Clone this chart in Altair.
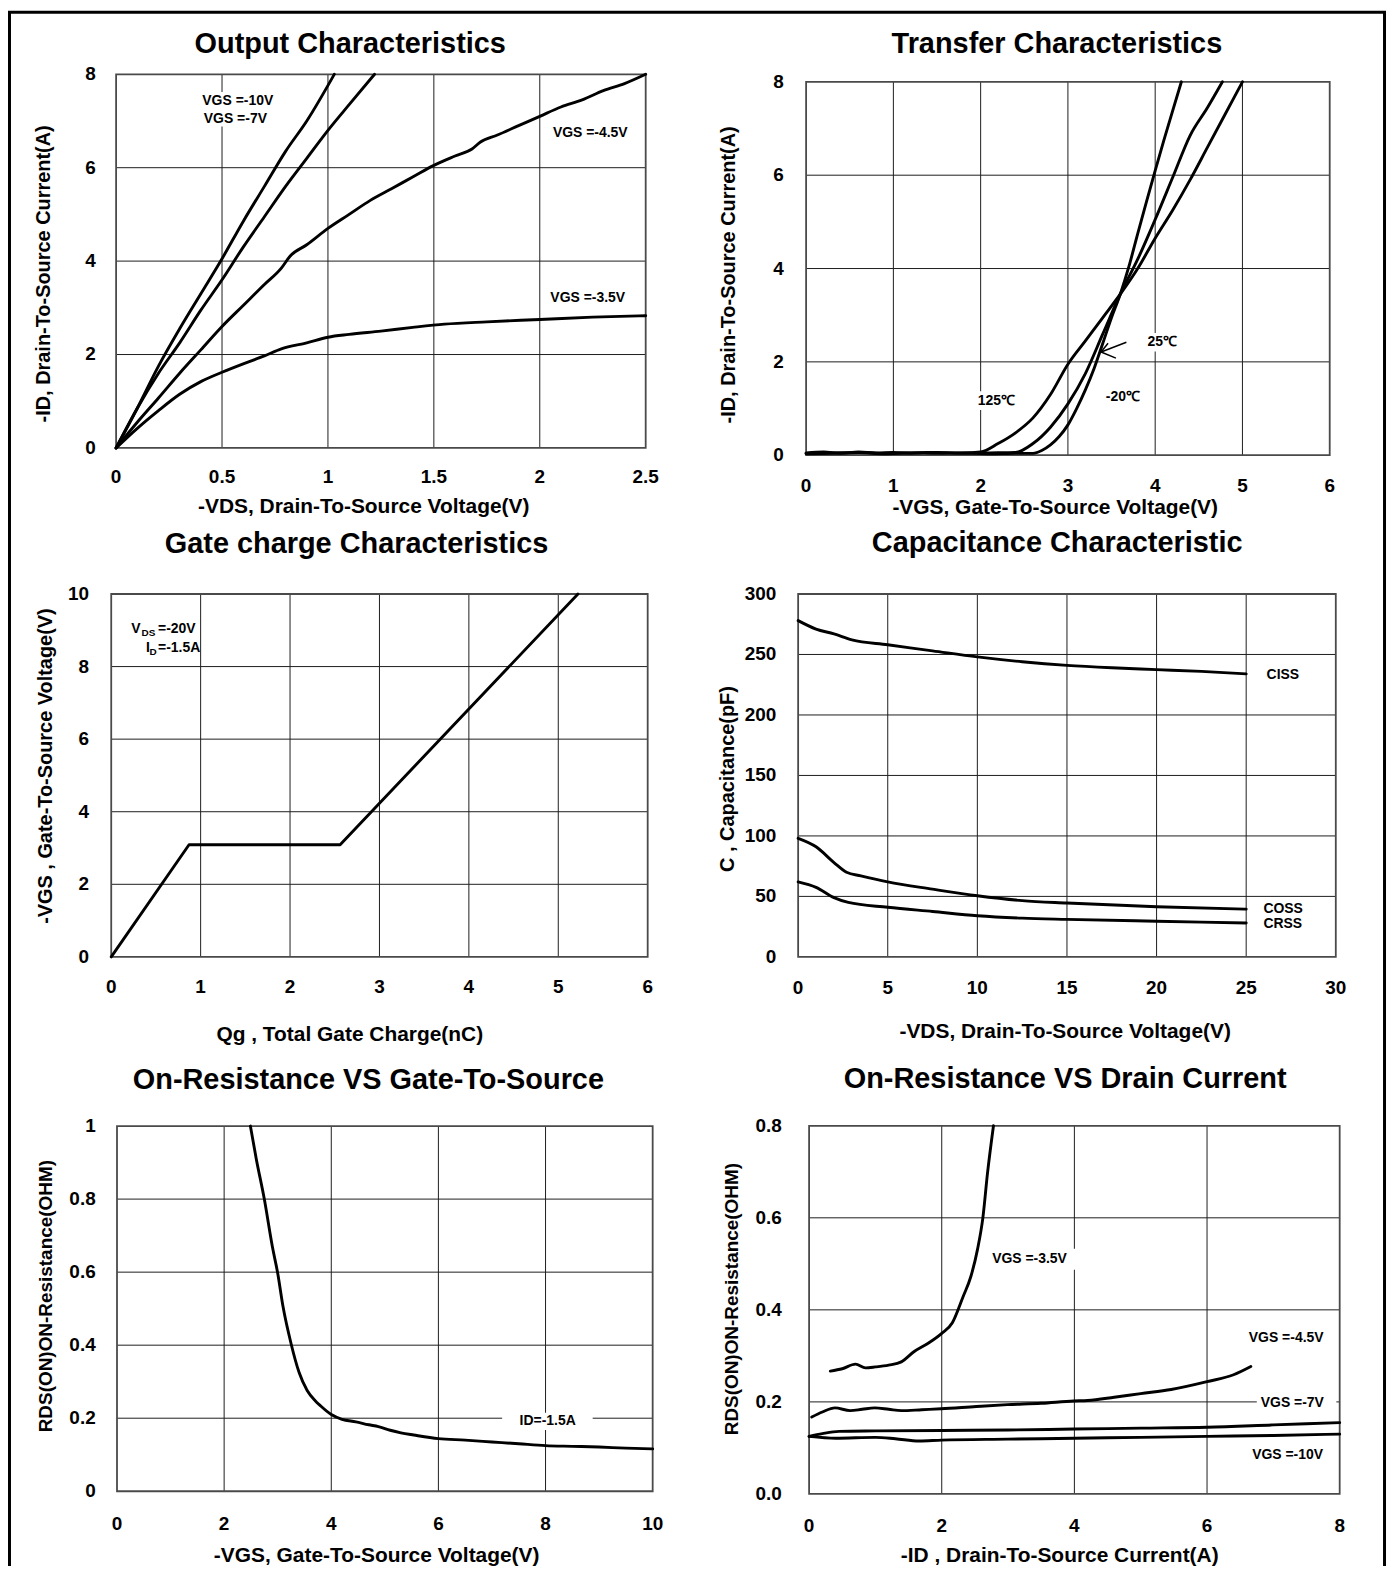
import altair as alt
import pandas as pd

FONT = "Liberation Sans"
W, H = 1386, 1558
ORIGIN = 8
GRID_C = "#1e1e1e"
FRAME_C = "#4a4a4a"

# ---------------- data ----------------
# Output Characteristics: -VDS (V) vs -ID (A)
OUT_VDS_10 = [0, 0.1, 0.2, 0.3, 0.4, 0.5, 0.6, 0.7, 0.8, 0.9, 1.03]
OUT_ID_10 = [0, 0.85, 1.75, 2.55, 3.3, 4.05, 4.85, 5.6, 6.35, 7.0, 8.0]
OUT_VDS_7 = [0, 0.1, 0.2, 0.3, 0.4, 0.5, 0.6, 0.7, 0.8, 0.9, 1.0, 1.1, 1.22]
OUT_ID_7 = [0, 0.85, 1.6, 2.25, 2.95, 3.6, 4.3, 4.95, 5.6, 6.2, 6.8, 7.35, 8.0]
OUT_VDS_45 = [0, 0.1, 0.2, 0.3, 0.4, 0.5, 0.6, 0.7, 0.78, 0.82, 0.9, 1.0, 1.1, 1.2, 1.3,
              1.4, 1.5, 1.6, 1.68, 1.72, 1.8, 1.9, 2.0, 2.1, 2.2, 2.3, 2.4, 2.5]
OUT_ID_45 = [0, 0.55, 1.07, 1.6, 2.1, 2.6, 3.05, 3.5, 3.85, 4.1, 4.35, 4.7, 5.0, 5.3, 5.55,
             5.8, 6.05, 6.25, 6.4, 6.55, 6.7, 6.9, 7.1, 7.3, 7.45, 7.65, 7.8, 8.0]
OUT_VDS_35 = [0, 0.1, 0.2, 0.3, 0.4, 0.5, 0.6, 0.7, 0.78, 0.9, 1.0, 1.1, 1.25, 1.4, 1.55,
              1.75, 2.0, 2.25, 2.5]
OUT_ID_35 = [0, 0.42, 0.8, 1.15, 1.42, 1.62, 1.8, 1.97, 2.12, 2.25, 2.37, 2.43, 2.5, 2.58,
             2.65, 2.7, 2.75, 2.8, 2.83]
OUT_LABELS = ["VGS =-10V", "VGS =-7V", "VGS =-4.5V", "VGS =-3.5V"]
OUT_LABEL_X = [0.407, 0.414, 2.062, 2.05]
OUT_LABEL_Y = [7.43, 7.04, 6.74, 3.22]
OUT_XTICKS = [0, 0.5, 1, 1.5, 2, 2.5]
OUT_XTICK_LABELS = ["0", "0.5", "1", "1.5", "2", "2.5"]
OUT_YTICKS = [0, 2, 4, 6, 8]
OUT_YTICK_LABELS = ["0", "2", "4", "6", "8"]

# Transfer Characteristics: -VGS (V) vs -ID (A)
TR_VGS_125 = [0, 0.2, 0.4, 0.6, 0.8, 1.0, 1.2, 1.4, 1.6, 1.8, 2.0, 2.2, 2.4, 2.6, 2.8,
              3.0, 3.2, 3.4, 3.6, 3.8, 4.0, 4.2, 4.4, 4.6, 4.8, 5.0]
TR_ID_125 = [0.05, 0.07, 0.04, 0.07, 0.05, 0.06, 0.04, 0.06, 0.05, 0.05, 0.07, 0.25, 0.48,
             0.8, 1.3, 1.95, 2.45, 2.95, 3.45, 4.0, 4.65, 5.25, 5.9, 6.6, 7.3, 8.0]
TR_VGS_25 = [0, 0.3, 0.6, 0.9, 1.2, 1.5, 1.8, 2.1, 2.4, 2.6, 2.8, 3.0, 3.2, 3.4, 3.6, 3.8,
             4.0, 4.2, 4.4, 4.6, 4.77]
TR_ID_25 = [0.04, 0.05, 0.06, 0.04, 0.05, 0.06, 0.04, 0.05, 0.06, 0.25, 0.6, 1.1, 1.75,
            2.6, 3.45, 4.2, 5.05, 5.95, 6.85, 7.45, 8.0]
TR_VGS_M20 = [0, 0.3, 0.6, 0.9, 1.2, 1.5, 1.8, 2.1, 2.4, 2.6, 2.7, 2.8, 2.9, 3.0, 3.1,
              3.2, 3.3, 3.4, 3.5, 3.6, 3.7, 3.8, 3.9, 4.0, 4.1, 4.2, 4.3]
TR_ID_M20 = [0.03, 0.04, 0.05, 0.03, 0.05, 0.04, 0.05, 0.03, 0.04, 0.04, 0.1, 0.22, 0.4,
             0.65, 1.0, 1.4, 1.86, 2.4, 2.95, 3.45, 4.05, 4.75, 5.43, 6.1, 6.75, 7.38, 8.0]
TR_LABELS = ["125\u2103", "-20\u2103", "25\u2103"]
TR_LABEL_X = [2.18, 3.63, 4.08]
TR_LABEL_Y = [1.17, 1.24, 2.42]
TR_ARROW_X = [3.67, 3.38, 3.38]
TR_ARROW_Y = [2.42, 2.21, 2.21]
TR_ARROW_X2 = [3.38, 3.46, 3.55]
TR_ARROW_Y2 = [2.21, 2.40, 2.08]
TR_XTICKS = [0, 1, 2, 3, 4, 5, 6]
TR_XTICK_LABELS = ["0", "1", "2", "3", "4", "5", "6"]
TR_YTICKS = [0, 2, 4, 6, 8]
TR_YTICK_LABELS = ["0", "2", "4", "6", "8"]

# Gate charge: Qg (nC) vs -VGS (V)
GC_QG = [0, 0.87, 2.56, 5.22]
GC_VGS = [0, 3.09, 3.09, 10.0]
GC_XTICKS = [0, 1, 2, 3, 4, 5, 6]
GC_XTICK_LABELS = ["0", "1", "2", "3", "4", "5", "6"]
GC_YTICKS = [0, 2, 4, 6, 8, 10]
GC_YTICK_LABELS = ["0", "2", "4", "6", "8", "10"]

# Capacitance: -VDS (V) vs C (pF)
CAP_VDS_CISS = [0, 1, 2, 3, 5, 7.5, 10, 12.5, 15, 17.5, 20, 22.5, 25]
CAP_CISS = [278, 271, 267, 262, 258, 253, 248, 244, 241, 239, 237.5, 236, 234]
CAP_VDS_COSS = [0, 1, 2, 2.7, 3.5, 5, 7.5, 10, 12.5, 15, 20, 25]
CAP_COSS = [98, 91, 78, 70, 67, 62, 56, 50.5, 46.5, 44.5, 41.5, 39.5]
CAP_VDS_CRSS = [0, 1, 2, 2.8, 5, 7.5, 10, 12.5, 15, 20, 25]
CAP_CRSS = [62, 57.5, 49, 45, 41, 37.5, 34, 32, 31, 29.5, 28]
CAP_LABELS = ["CISS", "COSS", "CRSS"]
CAP_LABEL_X = [26.14, 25.96, 25.96]
CAP_LABEL_Y = [232.7, 39.7, 26.8]
CAP_XTICKS = [0, 5, 10, 15, 20, 25, 30]
CAP_XTICK_LABELS = ["0", "5", "10", "15", "20", "25", "30"]
CAP_YTICKS = [0, 50, 100, 150, 200, 250, 300]
CAP_YTICK_LABELS = ["0", "50", "100", "150", "200", "250", "300"]

# On-resistance vs VGS: -VGS (V) vs RDS(on) (ohm)
RV_VGS = [2.49, 2.6, 2.75, 2.9, 3.0, 3.1, 3.25, 3.4, 3.55, 3.7, 3.8, 4.0, 4.2, 4.46, 4.7,
          4.88, 5.1, 5.3, 5.54, 6.0, 6.5, 7.0, 7.5, 8.0, 8.5, 9.0, 9.5, 10.0]
RV_R = [1.0, 0.91, 0.8, 0.67, 0.597, 0.505, 0.404, 0.325, 0.276, 0.248, 0.234, 0.21, 0.197,
        0.19, 0.182, 0.177, 0.167, 0.16, 0.154, 0.144, 0.14, 0.135, 0.13, 0.125, 0.123,
        0.121, 0.118, 0.116]
RV_LABELS = ["ID=-1.5A"]
RV_LABEL_X = [8.04]
RV_LABEL_Y = [0.192]
RV_XTICKS = [0, 2, 4, 6, 8, 10]
RV_XTICK_LABELS = ["0", "2", "4", "6", "8", "10"]
RV_YTICKS = [0, 0.2, 0.4, 0.6, 0.8, 1.0]
RV_YTICK_LABELS = ["0", "0.2", "0.4", "0.6", "0.8", "1"]

# On-resistance vs drain current: -ID (A) vs RDS(on) (ohm)
RI_ID_35 = [0.32, 0.5, 0.7, 0.85, 1.0, 1.2, 1.39, 1.59, 1.79, 2.0, 2.16, 2.32, 2.44, 2.54,
            2.62, 2.69, 2.78]
RI_R_35 = [0.267, 0.272, 0.282, 0.274, 0.276, 0.28, 0.287, 0.31, 0.327, 0.349, 0.372, 0.428,
           0.473, 0.532, 0.6, 0.697, 0.8]
RI_ID_45 = [0.04, 0.2, 0.39, 0.62, 0.8, 0.99, 1.2, 1.39, 1.7, 1.99, 2.52, 2.99, 3.5, 3.99,
            4.2, 4.6, 5.0, 5.46, 6.0, 6.4, 6.66]
RI_R_45 = [0.167, 0.178, 0.187, 0.181, 0.184, 0.187, 0.184, 0.181, 0.183, 0.185, 0.19,
           0.194, 0.197, 0.202, 0.203, 0.21, 0.218, 0.227, 0.244, 0.259, 0.277]
RI_ID_7 = [0, 0.2, 0.45, 1.0, 2.0, 3.0, 4.0, 5.0, 6.0, 7.0, 8.0]
RI_R_7 = [0.125, 0.131, 0.136, 0.137, 0.138, 0.139, 0.141, 0.143, 0.145, 0.15, 0.155]
RI_ID_10 = [0, 0.4, 1.0, 1.3, 1.66, 2.0, 3.0, 4.0, 5.0, 6.0, 7.0, 8.0]
RI_R_10 = [0.125, 0.121, 0.123, 0.12, 0.115, 0.117, 0.119, 0.121, 0.123, 0.125, 0.127, 0.13]
RI_LABELS = ["VGS =-3.5V", "VGS =-4.5V", "VGS =-7V", "VGS =-10V"]
RI_LABEL_X = [2.76, 6.63, 6.81, 6.68]
RI_LABEL_Y = [0.51, 0.338, 0.198, 0.084]
RI_XTICKS = [0, 2, 4, 6, 8]
RI_XTICK_LABELS = ["0", "2", "4", "6", "8"]
RI_YTICKS = [0, 0.2, 0.4, 0.6, 0.8]
RI_YTICK_LABELS = ["0.0", "0.2", "0.4", "0.6", "0.8"]

# ---------------- layout (page pixels) ----------------
LAYOUT = {
    "out": dict(x0=116.5, x1=648.0, y0=446.7, y1=71.7, xlp=20.1, ylp=20.5,
                xt=(365, 506.5), yt=(44.6, 272), title=(351.5, 40)),
    "tr": dict(x0=809.0, x1=1334.5, y0=454.0, y1=79.3, xlp=21.8, ylp=22.3,
               xt=(1059, 506.7), yt=(732, 273), title=(1060.7, 40)),
    "gc": dict(x0=111.6, x1=650.0, y0=957.5, y1=593.3, xlp=21.0, ylp=22.3,
               xt=(351, 1036), yt=(45.7, 766), title=(357.8, 541.3)),
    "cap": dict(x0=801.0, x1=1340.6, y0=957.5, y1=593.3, xlp=22.6, ylp=22.0,
                xt=(1069, 1033), yt=(731, 779), title=(1061, 541)),
    "rv": dict(x0=117.4, x1=655.0, y0=1493.8, y1=1127.3, xlp=23.7, ylp=21.4,
               xt=(378, 1559), yt=(45.7, 1298), title=(369.7, 1080)),
    "ri": dict(x0=812.0, x1=1344.5, y0=1496.5, y1=1127.0, xlp=22.7, ylp=27.5,
               xt=(1063.5, 1559), yt=(734.5, 1301), title=(1069, 1078.7)),
}

TICK_SIZE = 19
XTITLE_SIZE = 21
TITLE_SIZE = 29
NOTE_SIZE = 14


def long_df(series):
    rows = []
    for name, xs, ys in series:
        for a, b in zip(xs, ys):
            rows.append({"x": a, "y": b, "s": name})
    return pd.DataFrame(rows)


def text_mark(size, align, baseline, **kw):
    return dict(font=FONT, fontSize=size, fontWeight="bold", color="black",
                align=align, baseline=baseline, **kw)


def make_panel(key, xdom, ydom, xticks, xlabels, yticks, ylabels, xtitle, ytitle, series,
               labels, boxes, interp="monotone", ytitle_size=20, extra=None):
    L = LAYOUT[key]
    xs = alt.Scale(domain=xdom, range=[L["x0"] - ORIGIN, L["x1"] - ORIGIN], nice=False, zero=False)
    ys = alt.Scale(domain=ydom, range=[L["y0"] - ORIGIN, L["y1"] - ORIGIN], nice=False, zero=False)

    def X(f):
        return alt.X(f, scale=xs, axis=None)

    def Y(f):
        return alt.Y(f, scale=ys, axis=None)

    vgrid = pd.DataFrame({"x": xticks[1:-1]})
    vgrid["y0"] = ydom[0]
    vgrid["y1"] = ydom[1]
    hgrid = pd.DataFrame({"y": yticks[1:-1]})
    hgrid["x0"] = xdom[0]
    hgrid["x1"] = xdom[1]

    layers = []
    layers.append(alt.Chart(vgrid).mark_rule(color=GRID_C, strokeWidth=1).encode(
        x=X("x:Q"), y=Y("y0:Q"), y2="y1:Q"))
    layers.append(alt.Chart(hgrid).mark_rule(color=GRID_C, strokeWidth=1).encode(
        y=Y("y:Q"), x=X("x0:Q"), x2="x1:Q"))
    if boxes:
        bdf = pd.DataFrame(boxes, columns=["x0", "x1", "y0", "y1"])
        layers.append(alt.Chart(bdf).mark_rect(fill="white", strokeWidth=0).encode(
            x=X("x0:Q"), x2="x1:Q", y=Y("y0:Q"), y2="y1:Q"))
    fdf = pd.DataFrame({"x0": [xdom[0]], "x1": [xdom[1]], "y0": [ydom[0]], "y1": [ydom[1]]})
    layers.append(alt.Chart(fdf).mark_rect(fill="white", fillOpacity=0, stroke=FRAME_C,
                                           strokeWidth=1.8).encode(
        x=X("x0:Q"), x2="x1:Q", y=Y("y0:Q"), y2="y1:Q"))

    # tick labels
    xl = pd.DataFrame({"v": xticks, "t": xlabels})
    xl["b"] = ydom[0]
    layers.append(alt.Chart(xl).mark_text(**text_mark(TICK_SIZE, "center", "top", dy=L["xlp"])).encode(
        x=X("v:Q"), y=Y("b:Q"), text="t:N"))
    yl = pd.DataFrame({"v": yticks, "t": ylabels})
    yl["b"] = xdom[0]
    layers.append(alt.Chart(yl).mark_text(**text_mark(TICK_SIZE, "right", "middle", dx=-L["ylp"])).encode(
        x=X("b:Q"), y=Y("v:Q"), text="t:N"))

    # axis titles
    corner = pd.DataFrame({"x": [xdom[0]], "y": [ydom[0]], "t": [xtitle], "u": [ytitle]})
    layers.append(alt.Chart(corner).mark_text(**text_mark(
        XTITLE_SIZE, "center", "middle", dx=L["xt"][0] - L["x0"], dy=L["xt"][1] - L["y0"])).encode(
        x=X("x:Q"), y=Y("y:Q"), text="t:N"))
    layers.append(alt.Chart(corner).mark_text(**text_mark(
        ytitle_size, "center", "middle", angle=270,
        dx=L["y0"] - L["yt"][1], dy=L["yt"][0] - L["x0"])).encode(
        x=X("x:Q"), y=Y("y:Q"), text="u:N"))

    layers.append(alt.Chart(long_df(series)).mark_line(
        color="black", strokeWidth=2.9, interpolate=interp, strokeCap="round",
        strokeJoin="round").encode(x=X("x:Q"), y=Y("y:Q"), detail="s:N"))
    if extra is not None:
        edf = pd.DataFrame(extra, columns=["x", "y", "x2", "y2"])
        layers.append(alt.Chart(edf).mark_rule(color="black", strokeWidth=1.5).encode(
            x=X("x:Q"), x2="x2:Q", y=Y("y:Q"), y2="y2:Q"))
    for grp in labels:
        texts, lx, ly, align, size, dy = grp
        ldf = pd.DataFrame({"t": texts, "x": lx, "y": ly})
        layers.append(alt.Chart(ldf).mark_text(**text_mark(size, align, "middle", dy=dy)).encode(
            x=X("x:Q"), y=Y("y:Q"), text="t:N"))
    return alt.layer(*layers)


def title_layer(text, key):
    px, py = LAYOUT[key]["title"]
    return alt.Chart(pd.DataFrame({"t": [text]})).mark_text(
        **text_mark(TITLE_SIZE, "center", "middle")).encode(
        x=alt.value(px - ORIGIN), y=alt.value(py - ORIGIN + 1.5), text="t:N")


p_out = make_panel(
    "out", [0, 2.5], [0, 8], OUT_XTICKS, OUT_XTICK_LABELS, OUT_YTICKS, OUT_YTICK_LABELS,
    "-VDS, Drain-To-Source Voltage(V)", "-ID, Drain-To-Source Current(A)",
    [("-10V", OUT_VDS_10, OUT_ID_10), ("-7V", OUT_VDS_7, OUT_ID_7),
     ("-4.5V", OUT_VDS_45, OUT_ID_45), ("-3.5V", OUT_VDS_35, OUT_ID_35)],
    [(OUT_LABELS, OUT_LABEL_X, OUT_LABEL_Y, "left", NOTE_SIZE, 0)],
    [(0.39, 0.78, 6.88, 7.62)])

p_tr = make_panel(
    "tr", [0, 6], [0, 8], TR_XTICKS, TR_XTICK_LABELS, TR_YTICKS, TR_YTICK_LABELS,
    "-VGS, Gate-To-Source Voltage(V)", "-ID, Drain-To-Source Current(A)",
    [("125", TR_VGS_125, TR_ID_125), ("25", TR_VGS_25, TR_ID_25),
     ("-20", TR_VGS_M20, TR_ID_M20)],
    [(TR_LABELS, TR_LABEL_X, TR_LABEL_Y, "center", NOTE_SIZE, 0)],
    [(1.9, 2.46, 0.97, 1.37), (3.82, 4.34, 2.22, 2.62)],
    extra=list(zip(TR_ARROW_X, TR_ARROW_Y, TR_ARROW_X2, TR_ARROW_Y2)))

p_gc = make_panel(
    "gc", [0, 6], [0, 10], GC_XTICKS, GC_XTICK_LABELS, GC_YTICKS, GC_YTICK_LABELS,
    "Qg , Total Gate Charge(nC)", "-VGS , Gate-To-Source Voltage(V)",
    [("qg", GC_QG, GC_VGS)],
    [(["V", "I"], [0.224, 0.388], [9.04, 8.52], "left", NOTE_SIZE, 0),
     (["DS", "D"], [0.339, 0.428], [9.04, 8.52], "left", 10, 4),
     (["=-20V", "=-1.5A"], [0.523, 0.523], [9.04, 8.52], "left", NOTE_SIZE, 0)],
    [], interp="linear")

p_cap = make_panel(
    "cap", [0, 30], [0, 300], CAP_XTICKS, CAP_XTICK_LABELS, CAP_YTICKS, CAP_YTICK_LABELS,
    "-VDS, Drain-To-Source Voltage(V)", "C , Capacitance(pF)",
    [("ciss", CAP_VDS_CISS, CAP_CISS), ("coss", CAP_VDS_COSS, CAP_COSS),
     ("crss", CAP_VDS_CRSS, CAP_CRSS)],
    [(CAP_LABELS, CAP_LABEL_X, CAP_LABEL_Y, "left", NOTE_SIZE, 0)], [])

p_rv = make_panel(
    "rv", [0, 10], [0, 1], RV_XTICKS, RV_XTICK_LABELS, RV_YTICKS, RV_YTICK_LABELS,
    "-VGS, Gate-To-Source Voltage(V)", "RDS(ON)ON-Resistance(OHM)",
    [("r", RV_VGS, RV_R)],
    [(RV_LABELS, RV_LABEL_X, RV_LABEL_Y, "center", NOTE_SIZE, 0)],
    [(7.19, 8.88, 0.168, 0.215)], ytitle_size=19)

p_ri = make_panel(
    "ri", [0, 8], [0, 0.8], RI_XTICKS, RI_XTICK_LABELS, RI_YTICKS, RI_YTICK_LABELS,
    "-ID , Drain-To-Source Current(A)", "RDS(ON)ON-Resistance(OHM)",
    [("-3.5V", RI_ID_35, RI_R_35), ("-4.5V", RI_ID_45, RI_R_45),
     ("-7V", RI_ID_7, RI_R_7), ("-10V", RI_ID_10, RI_R_10)],
    [(RI_LABELS, RI_LABEL_X, RI_LABEL_Y, "left", NOTE_SIZE, 0)],
    [(2.72, 4.02, 0.487, 0.533), (6.75, 7.95, 0.18, 0.217)], ytitle_size=19)

outer = alt.Chart(pd.DataFrame({"a": [0]})).mark_rect(
    fill="white", fillOpacity=0, stroke="black", strokeWidth=3).encode(
    x=alt.value(1.5), x2=alt.value(1381.5), y=alt.value(1.5), y2=alt.value(H + 20))

titles = [
    title_layer("Output Characteristics", "out"),
    title_layer("Transfer Characteristics", "tr"),
    title_layer("Gate charge Characteristics", "gc"),
    title_layer("Capacitance Characteristic", "cap"),
    title_layer("On-Resistance VS Gate-To-Source", "rv"),
    title_layer("On-Resistance VS Drain Current", "ri"),
]

chart = alt.layer(outer, *titles, p_out, p_tr, p_gc, p_cap, p_rv, p_ri).resolve_scale(
    x="independent", y="independent").properties(
    width=W, height=H, padding={"left": 0, "top": 0, "right": 0, "bottom": 0},
    autosize=alt.AutoSizeParams(type="none", contains="padding"),
    background="white").configure_view(stroke=None)

chart.save("out.html", embed_options={"renderer": "svg", "actions": False})
